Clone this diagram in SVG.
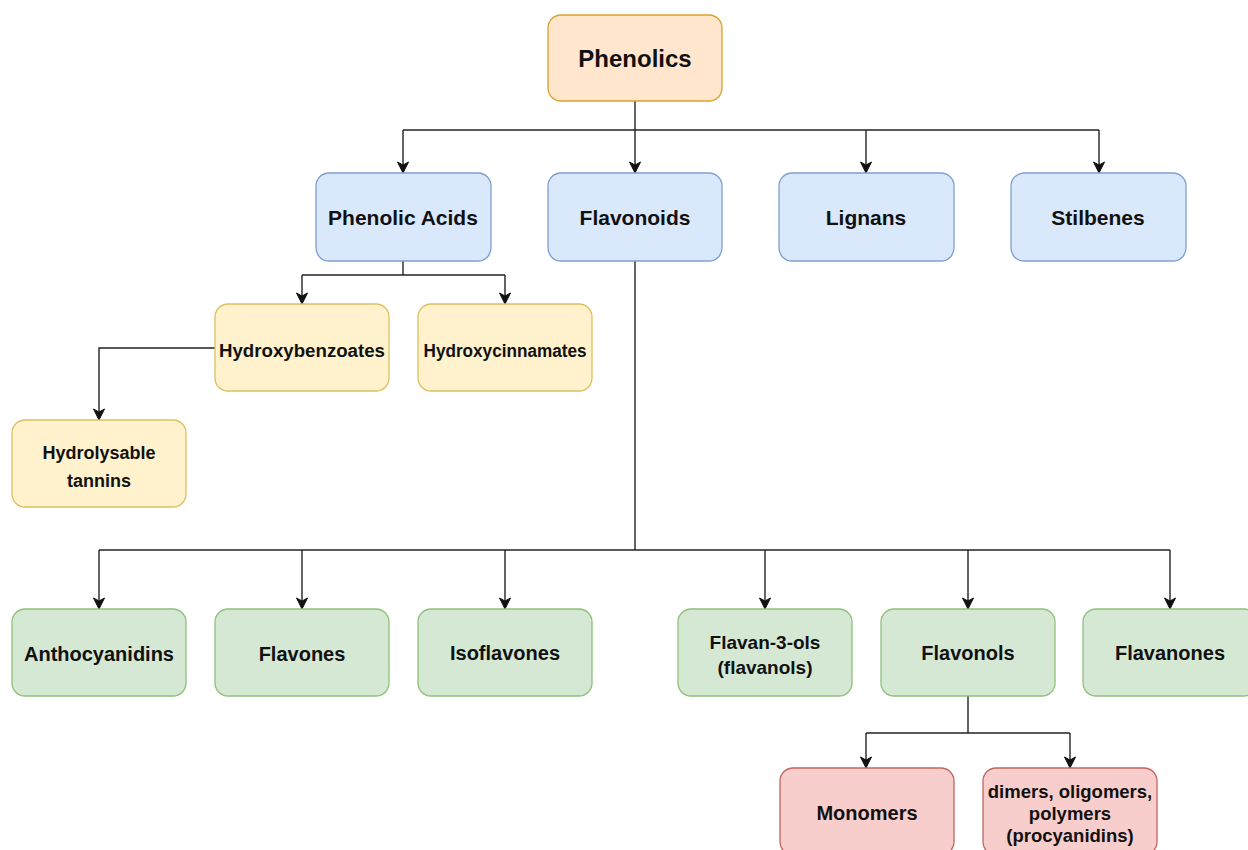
<svg xmlns="http://www.w3.org/2000/svg" width="1248" height="850" viewBox="0 0 1248 850">
<style>
.n{stroke-width:1.3}
.o{fill:#ffe6cc;stroke:#d7a32a}
.b{fill:#dae8fc;stroke:#7f9fcf}
.y{fill:#fff2cc;stroke:#dcc060}
.g{fill:#d5e8d4;stroke:#8fc07a}
.r{fill:#f8cecc;stroke:#c26560}
text{font-family:"Liberation Sans",Arial,Helvetica,sans-serif;font-weight:bold;fill:#111;text-anchor:middle}
.c path{fill:none;stroke:#222;stroke-width:1.4}
</style>
<defs>
<marker id="ah" markerUnits="userSpaceOnUse" markerWidth="14" markerHeight="14" viewBox="0 0 14 14" refX="12" refY="7" orient="auto">
<path d="M1,1.5 L12,7 L1,12.5 L4,7 z" fill="#111" stroke="#111" stroke-width="1"/>
</marker>
</defs>
<rect width="1248" height="850" fill="#fff"/>
<g class="c">
<path d="M635,101 V130"/>
<path d="M403,130 H1099"/>
<path d="M403,130 V173" marker-end="url(#ah)"/>
<path d="M635,130 V173" marker-end="url(#ah)"/>
<path d="M866,130 V173" marker-end="url(#ah)"/>
<path d="M1099,130 V173" marker-end="url(#ah)"/>
<path d="M403,261 V275"/>
<path d="M302,275 H505"/>
<path d="M302,275 V304" marker-end="url(#ah)"/>
<path d="M505,275 V304" marker-end="url(#ah)"/>
<path d="M215,348 H99 V420" marker-end="url(#ah)"/>
<path d="M635,261 V550"/>
<path d="M99,550 H1170"/>
<path d="M99,550 V609" marker-end="url(#ah)"/>
<path d="M302,550 V609" marker-end="url(#ah)"/>
<path d="M505,550 V609" marker-end="url(#ah)"/>
<path d="M765,550 V609" marker-end="url(#ah)"/>
<path d="M968,550 V609" marker-end="url(#ah)"/>
<path d="M1170,550 V609" marker-end="url(#ah)"/>
<path d="M968,696 V733"/>
<path d="M866,733 H1070"/>
<path d="M866,733 V768" marker-end="url(#ah)"/>
<path d="M1070,733 V768" marker-end="url(#ah)"/>
</g>
<g id="phenolics"><rect class="n o" x="548" y="15" width="174" height="86" rx="13"/><text x="635" y="67" font-size="24">Phenolics</text></g>
<g id="phenolic-acids"><rect class="n b" x="316" y="173" width="175" height="88" rx="13"/><text x="403" y="225" font-size="21">Phenolic Acids</text></g>
<g id="flavonoids"><rect class="n b" x="548" y="173" width="174" height="88" rx="13"/><text x="635" y="225" font-size="21">Flavonoids</text></g>
<g id="lignans"><rect class="n b" x="779" y="173" width="175" height="88" rx="13"/><text x="866" y="225" font-size="21">Lignans</text></g>
<g id="stilbenes"><rect class="n b" x="1011" y="173" width="175" height="88" rx="13"/><text x="1098" y="225" font-size="21">Stilbenes</text></g>
<g id="hydroxybenzoates"><rect class="n y" x="215" y="304" width="174" height="87" rx="13"/><text x="302" y="357" font-size="18" textLength="166" lengthAdjust="spacingAndGlyphs">Hydroxybenzoates</text></g>
<g id="hydroxycinnamates"><rect class="n y" x="418" y="304" width="174" height="87" rx="13"/><text x="505" y="357" font-size="18" textLength="163" lengthAdjust="spacingAndGlyphs">Hydroxycinnamates</text></g>
<g id="hydrolysable-tannins"><rect class="n y" x="12" y="420" width="174" height="87" rx="13"/><text x="99" y="459" font-size="18">Hydrolysable</text><text x="99" y="487" font-size="18">tannins</text></g>
<g id="anthocyanidins"><rect class="n g" x="12" y="609" width="174" height="87" rx="13"/><text x="99" y="661" font-size="20">Anthocyanidins</text></g>
<g id="flavones"><rect class="n g" x="215" y="609" width="174" height="87" rx="13"/><text x="302" y="661" font-size="20">Flavones</text></g>
<g id="isoflavones"><rect class="n g" x="418" y="609" width="174" height="87" rx="13"/><text x="505" y="660" font-size="20">Isoflavones</text></g>
<g id="flavan-3-ols"><rect class="n g" x="678" y="609" width="174" height="87" rx="13"/><text x="765" y="649" font-size="19">Flavan-3-ols</text><text x="765" y="674" font-size="19">(flavanols)</text></g>
<g id="flavonols"><rect class="n g" x="881" y="609" width="174" height="87" rx="13"/><text x="968" y="660" font-size="20">Flavonols</text></g>
<g id="flavanones"><rect class="n g" x="1083" y="609" width="174" height="87" rx="13"/><text x="1170" y="660" font-size="20">Flavanones</text></g>
<g id="monomers"><rect class="n r" x="780" y="768" width="174" height="87" rx="13"/><text x="867" y="820" font-size="20">Monomers</text></g>
<g id="dimers"><rect class="n r" x="983" y="768" width="174" height="87" rx="13"/><text x="1070" y="798" font-size="18.5">dimers, oligomers,</text><text x="1070" y="820" font-size="18.5">polymers</text><text x="1070" y="842" font-size="18.5">(procyanidins)</text></g>
</svg>
